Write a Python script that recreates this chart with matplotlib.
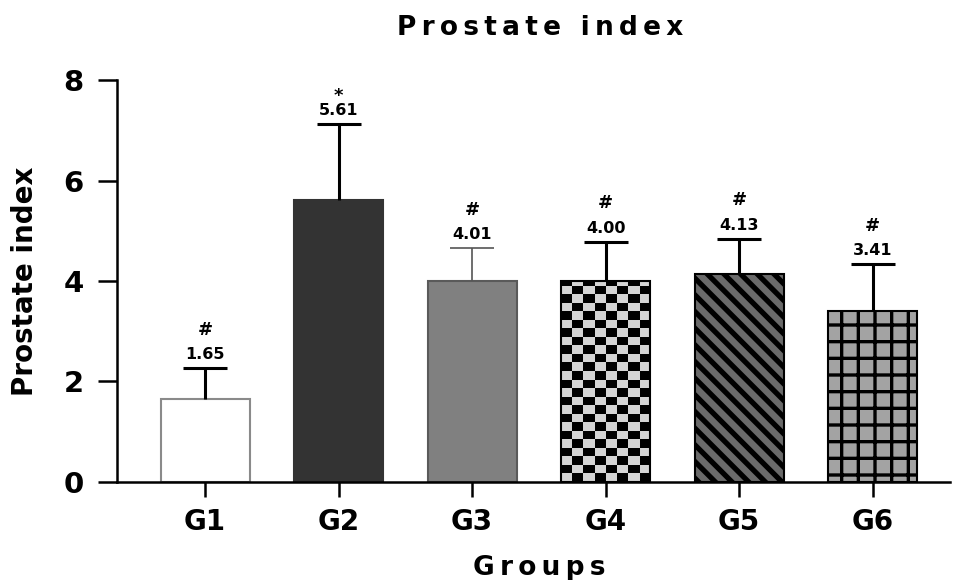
import numpy as np
import matplotlib as mpl
import matplotlib.pyplot as plt
from matplotlib.colors import ListedColormap

mpl.rcParams.update({
    'font.family': ['DejaVu Sans'],
    'font.weight': 'bold',
    'axes.linewidth': 1.8,
    'axes.spines.top': False,
    'axes.spines.right': False,
    'hatch.linewidth': 3.0,
})

groups = ['G1', 'G2', 'G3', 'G4', 'G5', 'G6']
means = [1.65, 5.61, 4.01, 4.00, 4.13, 3.41]
sds = [0.62, 1.51, 0.65, 0.78, 0.71, 0.93]
marks = ['#', '*', '#', '#', '#', '#']

face = ['white', '#333333', '#808080', 'none', '#6a6a6a', '#a3a3a3']
edge = ['#8a8a8a', '#333333', '#5a5a5a', 'black', 'black', 'black']
hatches = [None, None, None, None, '\\\\', '+']
hatch_lw = [None, None, None, None, 3.8, 2.4]
err_col = ['black', 'black', '#555555', 'black', 'black', 'black']
err_lw = [2.2, 2.2, 1.2, 2.2, 2.2, 2.2]


def spaced(s, gap):
    # crude letter spacing using unicode spaces between glyphs
    return gap.join(s)


fig = plt.figure(figsize=(9.54, 5.8), dpi=100)
ax = fig.add_axes([0.1226, 0.169, 0.8732, 0.693])

x = np.arange(len(groups))
W = 0.667
bars = ax.bar(x, means, W, color=face, edgecolor=edge, linewidth=1.5, zorder=2)
for b, h, lw in zip(bars, hatches, hatch_lw):
    if h:
        b.set_hatch(h)
        if hasattr(b, 'set_hatch_linewidth'):
            b.set_hatch_linewidth(lw)

# checkerboard fill for G4, clipped to its bar
cell_h = 0.17
nrow = int(np.ceil(means[3] / cell_h))
checker = np.add.outer(np.arange(nrow), np.arange(8)) % 2
im = ax.imshow(checker, cmap=ListedColormap(['#d4d4d4', 'black']), origin='lower',
               extent=(x[3] - W / 2, x[3] + W / 2, 0, nrow * cell_h),
               aspect='auto', interpolation='nearest', zorder=1.9)
im.set_clip_path(bars[3])

# upper-only SD whiskers
tops = [m + s for m, s in zip(means, sds)]
cap = 0.165
ax.vlines(x, means, tops, colors=err_col, linewidths=err_lw, zorder=3)
ax.hlines(tops, x - cap, x + cap, colors=err_col, linewidths=err_lw, zorder=3)

for xi, m, t, mk in zip(x, means, tops, marks):
    ax.annotate(f'{m:.2f}', (xi, t), xytext=(0, 6.5), textcoords='offset points',
                ha='center', va='baseline', fontsize=11.5, fontweight='bold')
    if mk == '*':
        ax.annotate(mk, (xi, t), xytext=(0, 17), textcoords='offset points',
                    ha='center', va='baseline', fontsize=13, fontweight='bold')
    else:
        ax.annotate(mk, (xi, t), xytext=(0, 24), textcoords='offset points',
                    ha='center', va='baseline', fontsize=13, fontweight='bold')

ax.set_xlim(-0.66, 5.58)
ax.set_ylim(0, 8)
ax.set_yticks([0, 2, 4, 6, 8])
ax.set_xticks(x)
ax.set_xticklabels(groups)
ax.tick_params(axis='y', length=14, width=1.8, pad=10, labelsize=21)
ax.tick_params(axis='x', length=11, width=1.8, pad=8, labelsize=20)

ax.set_ylabel('Prostate index', fontsize=20, fontweight='bold')
ax.yaxis.set_label_coords(-0.094, 0.5)
ax.set_xlabel(spaced('Groups', '\u2009'), fontsize=19, fontweight='bold', va='top')
ax.xaxis.set_label_coords(0.507, -0.182)

fig.text(540 / 954, 1 - 35 / 580, spaced('Prostate index', '\u2009'),
         ha='center', va='baseline', fontsize=19, fontweight='bold')

fig.savefig('out.png', dpi=100)
